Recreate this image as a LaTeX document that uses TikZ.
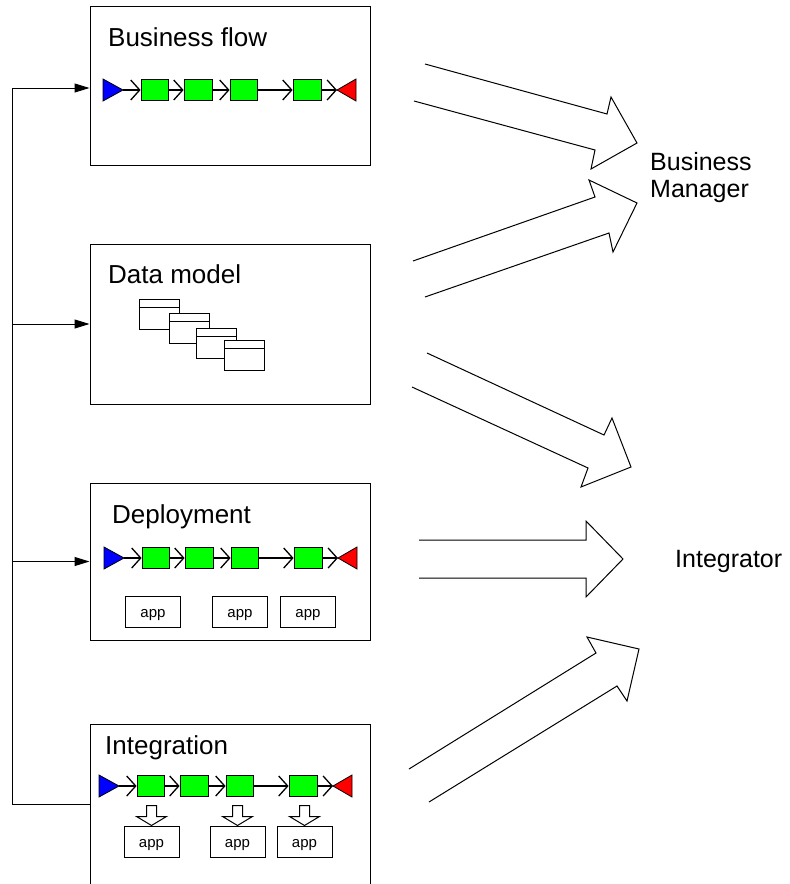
\documentclass[tikz,border=0pt]{standalone}
\usepackage{fontspec}
\setmainfont{Liberation Sans}
\usetikzlibrary{arrows.meta}

\tikzset{
  box/.style={draw,line width=1pt,minimum width=280pt,inner sep=0pt},
  heading/.style={anchor=base west,inner sep=0pt,font=\fontsize{26pt}{30pt}\selectfont},
  role/.style={inner sep=0pt,font=\fontsize{25pt}{27pt}\selectfont},
  task/.style={draw,fill=green,line width=0.8pt,minimum width=27pt,minimum height=21pt,inner sep=0pt},
  startmark/.style={draw,fill=blue,line width=0.8pt,line join=miter},
  endmark/.style={draw,fill=red,line width=0.8pt,line join=miter},
  flowarrow/.style={line width=1.1pt,-{Straight Barb[length=9pt,width=20pt,line width=1.3pt]}},
  entity/.style={draw,fill=white,line width=1pt,minimum width=40pt,minimum height=30pt,inner sep=0pt,
    path picture={\draw[line width=1pt] ([yshift=-8pt]path picture bounding box.north west)
      -- ([yshift=-8pt]path picture bounding box.north east);}},
  appbox/.style={draw,line width=1pt,minimum width=55pt,minimum height=31pt,inner sep=0pt,
    text height=12pt,text depth=0pt,font=\fontsize{15pt}{18pt}\selectfont},
  push/.style={draw,fill=white,line width=1pt,line join=miter},
  bigarrow/.style={draw,line width=1pt,line join=miter},
  feed/.style={line width=1pt,-{Triangle[length=15pt,width=9pt]}},
}

% une chaine : debut, quatre taches, fin
\newcommand{\flowrow}[3]{%
  \draw[startmark] (#2,#3-11) -- ++(20,11) coordinate (#1s) -- ++(-20,11) -- cycle;
  \node[task] (#1a) at (#2+51.5,#3) {};
  \node[task,minimum width=28pt] (#1b) at (#2+95,#3) {};
  \node[task] (#1c) at (#2+140.5,#3) {};
  \node[task,minimum width=28pt] (#1d) at (#2+204,#3) {};
  \draw[endmark] (#2+253,#3-11) -- ++(-19,11) coordinate (#1e) -- ++(19,11) -- cycle;
  \draw[flowarrow] (#1s) -- (#1a);
  \draw[flowarrow] (#1a) -- (#1b);
  \draw[flowarrow] (#1b) -- (#1c);
  \draw[flowarrow] (#1c) -- (#1d);
  \draw[flowarrow] (#1d) -- (#1e);
}

\begin{document}
\begin{tikzpicture}[x=1pt,y=-1pt]
\useasboundingbox (0,0) rectangle (790,884);
\clip (0,0) rectangle (790,884);

% les quatre vues
\node[box,minimum height=159pt] (bflow) at (230,85.5) {};
\node[box,minimum height=160pt] (dmodel) at (230,324) {};
\node[box,minimum height=157pt] (deploy) at (230,561.5) {};
\node[box,minimum height=164pt] (integ) at (230,806) {};

\node[heading] (bftitle) at (108,46) {Business flow};
\node[heading] (dmtitle) at (108,283) {Data model};
\node[heading] (dptitle) at (112,523) {Deployment};
\node[heading] (igtitle) at (105,754) {Integration};

\flowrow{bf}{103}{90}
\flowrow{dp}{104}{558}
\flowrow{ig}{99}{786}

\node[entity] (ent1) at (159,314.5) {};
\node[entity] (ent2) at (189,328) {};
\node[entity] (ent3) at (216,343) {};
\node[entity] (ent4) at (244,355) {};

\node[appbox] (da1) at (153,611.5) {app};
\node[appbox] (da2) at (240,611.5) {app};
\node[appbox] (da3) at (308,611.5) {app};

\node[appbox] (ia1) at (151.5,841.5) {app};
\node[appbox] (ia2) at (237.5,841.5) {app};
\node[appbox] (ia3) at (304.5,841.5) {app};
\draw[push] (ia1.north) -- ++(-15,-9) -- ++(10,0) -- ++(0,-11) -- ++(10,0) -- ++(0,11) -- ++(10,0) -- cycle;
\draw[push] (ia2.north) -- ++(-15,-9) -- ++(10,0) -- ++(0,-11) -- ++(10,0) -- ++(0,11) -- ++(10,0) -- cycle;
\draw[push] (ia3.north) -- ++(-15,-9) -- ++(10,0) -- ++(0,-11) -- ++(10,0) -- ++(0,11) -- ++(10,0) -- cycle;

% liaison a gauche
\coordinate (railtop) at (12,88);
\coordinate (railbot) at (12,804);
\draw[line width=1pt] (railtop) -- (railbot) -- (railbot -| integ.west);
\draw[feed] (railtop) -- (railtop -| bflow.west);
\draw[feed] (railtop |- dmodel.west) -- (dmodel.west);
\draw[feed] (railtop |- deploy.west) -- (deploy.west);

% roles
\node[role,align=left,anchor=west] (manager) at (650,178) {Business\\Manager};
\node[role,anchor=base west] (integrator) at (675,567) {Integrator};

% grosses fleches
\draw[bigarrow] (425,64) -- (607,114) -- (611,97) -- (637,143) -- (591,169) -- (595,150) -- (414,101);
\draw[bigarrow] (413,261) -- (595,197) -- (589,180) -- (637,203) -- (613,252) -- (609,233) -- (425,297);
\draw[bigarrow] (427,353) -- (604,435) -- (612,418) -- (631,467) -- (581,487) -- (588,468) -- (412,387);
\draw[bigarrow] (419,540) -- (586,540) -- (586,521) -- (623,559) -- (586,597) -- (586,578) -- (419,578);
\draw[bigarrow] (409,769) -- (596,653) -- (587,637) -- (639,649) -- (627,701) -- (617,686) -- (429,802);
\end{tikzpicture}
\end{document}
